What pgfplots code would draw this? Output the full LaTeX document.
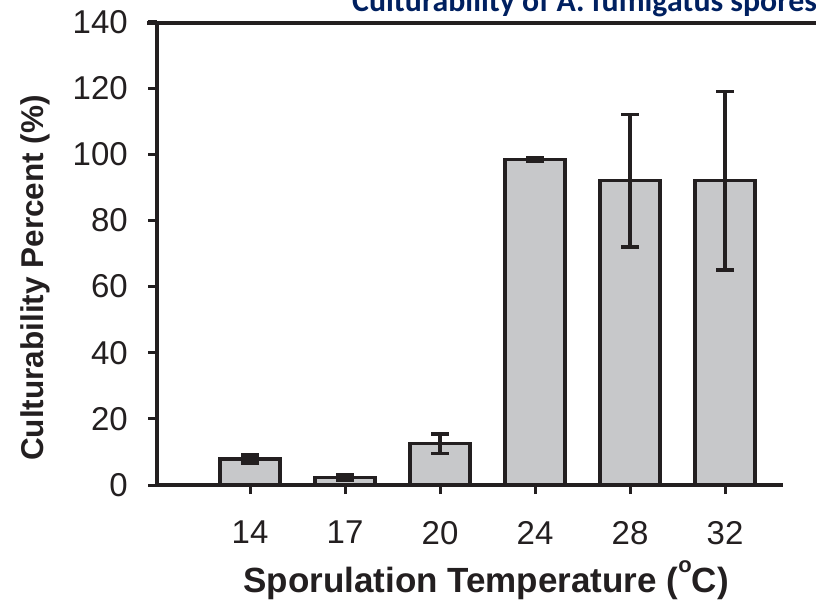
\documentclass[border=0pt]{standalone}
\usepackage{pgfplots}
\pgfplotsset{compat=1.18}
\usepackage{pgfplotstable}
\usepackage{fontspec}
\setmainfont{Liberation Sans}
\newfontfamily\titlefont{Carlito}

\definecolor{ink}{RGB}{35,31,32}
\definecolor{barfill}{RGB}{199,200,202}
\definecolor{titleblue}{RGB}{0,32,96}

% culturability (%) by sporulation temperature, with error
\pgfplotstableread{
x  y     e
0  7.9   1.2
1  2.3   0.9
2  12.5  3.0
3  98.4  0.5
4  92.0  20.0
5  92.0  27.0
}\culturability

\begin{document}
\begin{tikzpicture}[x=1pt,y=1pt]
\begin{axis}[
  at={(157pt,128pt)}, anchor=south west,
  scale only axis, width=626pt, height=463pt,
  xmin=-0.979, xmax=5.61, ymin=0, ymax=140,
  axis x line*=bottom, axis y line*=left,
  axis line style={line width=3.5pt, color=ink},
  clip=false,
  xtick={0,...,5}, xticklabels={14,17,20,24,28,32},
  ytick={0,20,...,140},
  tick align=outside, major tick length=9pt,
  tick style={line width=3pt, color=ink},
  /pgf/number format/assume math mode=true,
  ticklabel style={font=\fontsize{33}{38}\selectfont, text=ink, inner sep=0pt},
  yticklabel style={anchor=east, xshift=-20pt},
  xticklabel style={anchor=north, yshift=-27pt},
  xlabel={Sporulation Temperature (\raisebox{0.55em}{\fontsize{22}{24}\selectfont o}C)},
  xlabel style={font=\bfseries\fontsize{35}{40}\selectfont, text=ink, inner sep=0pt,
                at={(axis description cs:0.5256,0)}, anchor=base, yshift=-107pt},
  ylabel={Culturability Percent (\%)},
  ylabel style={font=\bfseries\fontsize{31.5}{36}\selectfont, text=ink, inner sep=0pt,
                at={(axis description cs:-0.195,0.447)}, anchor=center, rotate=0},
]
\addplot[ybar, bar width=60pt, fill=barfill, draw=ink, line width=3.5pt,
  error bars/.cd, y dir=both, y explicit, error mark=|,
  error bar style={line width=3.5pt, color=ink},
  error mark options={line width=3.8pt, mark size=9pt, color=ink}]
  table[x=x, y=y, y error=e] {\culturability};
\end{axis}
% rule along the top of the panel
\draw[line width=3.5pt, ink] (147,590) -- (820,590);
\node[font=\titlefont\bfseries\fontsize{31.8}{36}\selectfont, text=titleblue,
      anchor=base west, inner sep=0pt] at (352,601) {Culturability of A. fumigatus spores};
\pgfresetboundingbox
\path[use as bounding box] (0,0) rectangle (816,613);
\end{tikzpicture}
\end{document}
